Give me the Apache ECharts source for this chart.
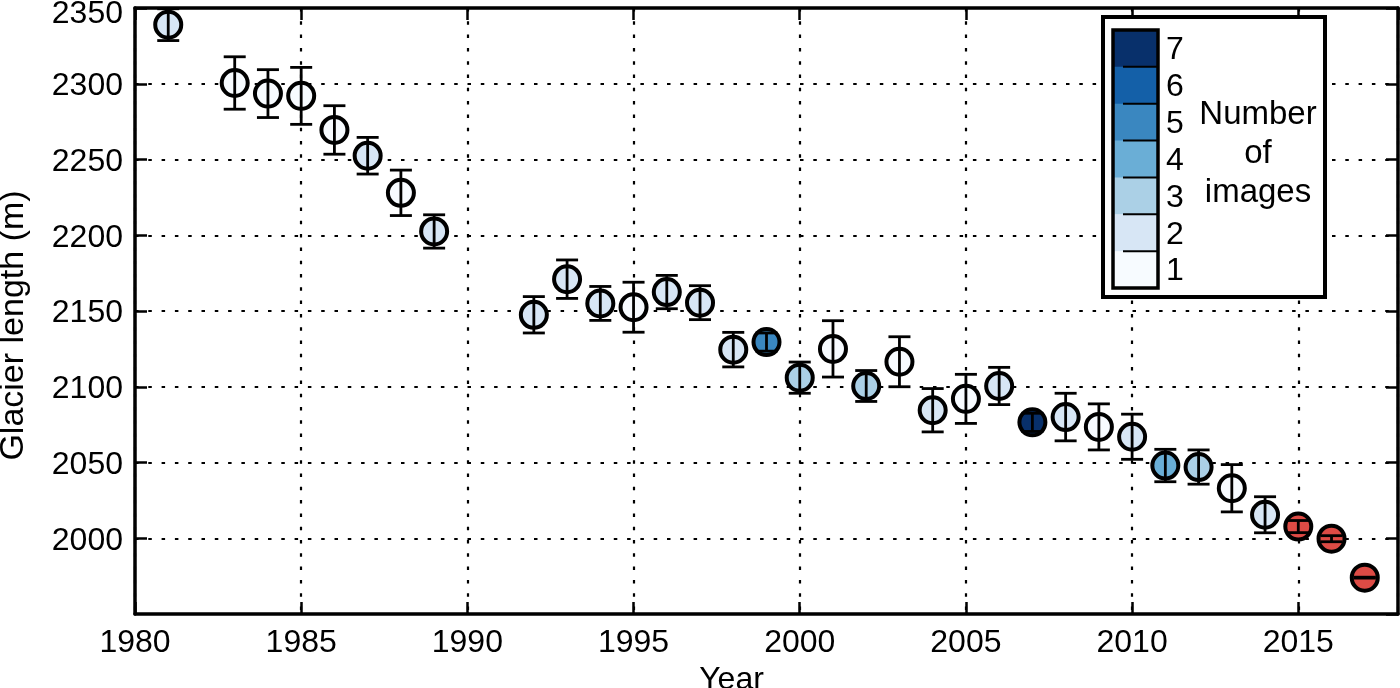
<!DOCTYPE html>
<html>
<head>
<meta charset="utf-8">
<script src="https://cdn.jsdelivr.net/npm/echarts@6/dist/echarts.min.js"></script>
<style>
html,body{margin:0;padding:0;background:#fff;}
#chart{width:1400px;height:688px;}
</style>
</head>
<body>
<div id="chart"></div>
<script>
// ---- data ----
var years   = [1981,1983,1984,1985,1986,1987,1988,1989,1992,1993,1994,1995,1996,1997,1998,1999,2000,2001,2002,2003,2004,2005,2006,2007,2008,2009,2010,2011,2012,2013,2014];
var lengths = [2339,2300.5,2293.5,2292,2269.5,2252.5,2228,2202.5,2147.5,2171,2155,2152.5,2162.5,2155.5,2124.5,2129.5,2106,2125,2100.5,2116.5,2084.5,2092,2100.5,2076.5,2080,2073.5,2067,2048,2047,2033,2015.5];
var errors  = [10.5,17.3,15.8,18.8,16,12.1,15,11,12,12.7,11.2,16.5,11,11.2,11.4,6,10.3,18.6,10.2,16.5,14.3,16.2,12.3,6,15.7,15.2,14.9,10.7,11.3,15.6,11.9];
var nImages = [2,1,1,1,1,2,1,2,2,2,2,1,2,2,2,5,3,1,3,1,2,1,2,7,2,1,2,4,3,1,2];

var fieldYears   = [2015,2016,2017];
var fieldLengths = [2007.7,1999.7,1974];
var fieldErrors  = [4,2,0.3];

var imageLevels  = [1,2,3,4,5,6,7];
var levelColors  = ['#f7fbff','#d7e6f5','#abd0e6','#6aaed6','#3a87c0','#1460a8','#08306b'];
var fieldColor   = '#dd4b45';

var xTicks = {min:1980, max:2018, interval:5};
var yTicks = {min:1950, max:2350, interval:50};

// ---- chart ----
var FONT = 'Liberation Sans, Arial, sans-serif';
var FS = 32;
var chart = echarts.init(document.getElementById('chart'), null, {renderer:'canvas'});

var scatterData = years.map(function(y,i){ return [y, lengths[i], nImages[i]]; });
var fieldData = fieldYears.map(function(y,i){ return [y, fieldLengths[i]]; });
var errData = years.map(function(y,i){ return [y, lengths[i]-errors[i], lengths[i]+errors[i]]; })
  .concat(fieldYears.map(function(y,i){ return [y, fieldLengths[i]-fieldErrors[i], fieldLengths[i]+fieldErrors[i]]; }));

var dotted = {color:'#000', width:2.2, type:[3.5,9.8]};
var axisLineStyle = {lineStyle:{color:'#000', width:3.5}};
var tickStyle = {show:true, inside:true, length:12, lineStyle:{color:'#000', width:2.5}};

// legend graphics
var lg = {x:1103, y:17, w:222, h:280, bx:1113, by:30, bw:45, bh:258};
var seg = lg.bh / imageLevels.length;
var graphics = [{
  type:'rect', z:100, shape:{x:lg.x, y:lg.y, width:lg.w, height:lg.h},
  style:{fill:'#fff', stroke:'#000', lineWidth:4}
}];
imageLevels.slice().reverse().forEach(function(lv, k){
  graphics.push({type:'rect', z:101, shape:{x:lg.bx, y:lg.by + k*seg, width:lg.bw, height:seg+0.5},
    style:{fill:levelColors[lv-1], stroke:null}});
  graphics.push({type:'text', z:103, x:lg.bx+53, y:lg.by + k*seg + seg/2 + 2,
    style:{text:String(lv), font:FS+'px '+FONT, fill:'#000', align:'left', verticalAlign:'middle'}});
  if (k>0) graphics.push({type:'line', z:102, shape:{x1:lg.bx+10, y1:lg.by+k*seg, x2:lg.bx+lg.bw, y2:lg.by+k*seg},
    style:{stroke:'#000', lineWidth:2}});
});
graphics.push({type:'rect', z:102, shape:{x:lg.bx, y:lg.by, width:lg.bw, height:lg.bh},
  style:{fill:null, stroke:'#000', lineWidth:3.5}});
[['Number',114.5],['of',154],['images',192.5]].forEach(function(t){
  graphics.push({type:'text', z:103, x:1258, y:t[1],
    style:{text:t[0], font:'33px '+FONT, fill:'#000', align:'center', verticalAlign:'middle'}});
});
// y-axis title
graphics.push({type:'text', z:103, x:14, y:325.5, rotation:Math.PI/2,
  style:{text:'Glacier length (m)', font:'34px '+FONT, fill:'#000', align:'center', verticalAlign:'middle'}});

var option = {
  animation:false,
  backgroundColor:'#fff',
  grid:{left:135, right:2, top:8, bottom:74, containLabel:false, outerBoundsMode:'none'},
  xAxis:[{
    type:'value', min:xTicks.min, max:xTicks.max, interval:xTicks.interval,
    name:'Year', nameLocation:'middle', nameGap:42,
    nameTextStyle:{fontFamily:FONT, fontSize:FS, color:'#000', padding:[0,70,0,0]},
    axisLine:axisLineStyle, axisTick:tickStyle,
    axisLabel:{color:'#000', fontFamily:FONT, fontSize:FS, margin:13, showMaxLabel:false,
      formatter:function(v){ return String(v); }},
    splitLine:{show:true, lineStyle:dotted}
  },{
    type:'value', position:'top', min:xTicks.min, max:xTicks.max, interval:xTicks.interval,
    axisLine:axisLineStyle, axisTick:tickStyle, axisLabel:{show:false}, splitLine:{show:false}
  }],
  yAxis:[{
    type:'value', min:yTicks.min, max:yTicks.max, interval:yTicks.interval,
    axisLine:axisLineStyle, axisTick:tickStyle,
    axisLabel:{color:'#000', fontFamily:FONT, fontSize:FS, margin:12, showMinLabel:false,
      formatter:function(v){ return v===yTicks.max ? '{t|'+v+'}' : '{n|'+v+'}'; },
      rich:{t:{fontFamily:FONT, fontSize:FS, color:'#000', padding:[12,0,0,0]},
            n:{fontFamily:FONT, fontSize:FS, color:'#000', padding:[5,0,0,0]}}},
    splitLine:{show:true, lineStyle:dotted}
  },{
    type:'value', position:'right', min:yTicks.min, max:yTicks.max, interval:yTicks.interval,
    axisLine:axisLineStyle, axisTick:tickStyle, axisLabel:{show:false}, splitLine:{show:false}
  }],
  visualMap:{
    show:false, type:'piecewise', seriesIndex:0, dimension:2,
    pieces:imageLevels.map(function(lv){ return {value:lv, color:levelColors[lv-1]}; })
  },
  series:[{
    type:'scatter', xAxisIndex:0, yAxisIndex:0, data:scatterData, z:3,
    symbol:'circle', symbolSize:26,
    itemStyle:{borderColor:'#000', borderWidth:4, opacity:1}
  },{
    type:'scatter', xAxisIndex:0, yAxisIndex:0, data:fieldData, z:3,
    symbol:'circle', symbolSize:26,
    itemStyle:{color:fieldColor, borderColor:'#000', borderWidth:4, opacity:1}
  },{
    type:'custom', xAxisIndex:0, yAxisIndex:0, data:errData, z:5,
    renderItem:function(params, api){
      var lo = api.coord([api.value(0), api.value(1)]);
      var hi = api.coord([api.value(0), api.value(2)]);
      var hw = 11;
      var st = {stroke:'#000', lineWidth:2.8};
      return {type:'group', children:[
        {type:'line', shape:{x1:lo[0], y1:lo[1], x2:hi[0], y2:hi[1]}, style:st},
        {type:'line', shape:{x1:lo[0]-hw, y1:lo[1], x2:lo[0]+hw, y2:lo[1]}, style:st},
        {type:'line', shape:{x1:hi[0]-hw, y1:hi[1], x2:hi[0]+hw, y2:hi[1]}, style:st}
      ]};
    }
  }],
  graphic:graphics
};
chart.setOption(option);
</script>
</body>
</html>
